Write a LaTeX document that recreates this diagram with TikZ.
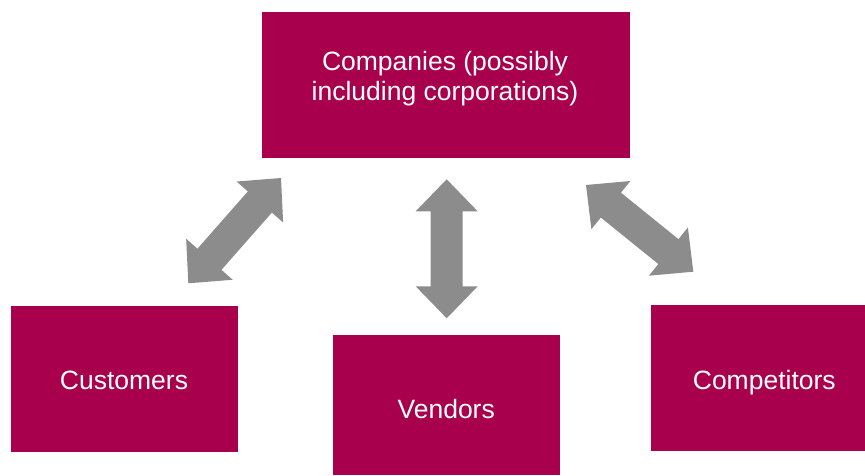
\documentclass[tikz,border=0pt]{standalone}
\usepackage{fontspec}
\setmainfont{Liberation Sans}
\usetikzlibrary{calc}
\definecolor{boxred}{RGB}{168,0,76}
\definecolor{arrowgray}{RGB}{140,140,140}
\tikzset{
  box/.style={fill=boxred, draw=none, inner sep=0pt, anchor=south west},
  lbl/.style={text=white, inner sep=0pt, anchor=base, font=\fontsize{26.5}{30}\selectfont},
}
\newcommand{\blockarrow}[2]{%
  \fill[arrowgray] (#1)
    -- ($(#1)!32pt!(#2)!31pt!90:(#2)$)
    -- ($(#1)!32pt!(#2)!16pt!90:(#2)$)
    -- ($(#2)!32pt!(#1)!16pt!-90:(#1)$)
    -- ($(#2)!32pt!(#1)!31pt!-90:(#1)$)
    -- (#2)
    -- ($(#2)!32pt!(#1)!31pt!90:(#1)$)
    -- ($(#2)!32pt!(#1)!16pt!90:(#1)$)
    -- ($(#1)!32pt!(#2)!16pt!-90:(#2)$)
    -- ($(#1)!32pt!(#2)!31pt!-90:(#2)$)
    -- cycle;}
\begin{document}
\begin{tikzpicture}[x=1pt,y=1pt]
\useasboundingbox (0,0) rectangle (865,475);
% boxes
\node[box, minimum width=368pt, minimum height=145.7pt] (companies) at (262,317.3) {};
\node[box, minimum width=226.7pt, minimum height=145.7pt] (customers) at (11,23.3) {};
\node[box, minimum width=227.3pt, minimum height=140pt] (vendors) at (332.7,0) {};
\node[box, minimum width=214pt, minimum height=145.7pt] (competitors) at (651,24.3) {};
% labels
\node[lbl] (companies-l1) at (445,404) {Companies (possibly};
\node[lbl] (companies-l2) at (445,374) {including corporations)};
\node[lbl] (customers-l) at (124,86) {Customers};
\node[lbl] (vendors-l) at (446.2,56.7) {Vendors};
\node[lbl] (competitors-l) at (764.3,86) {Competitors};
% arrow tips
\coordinate (la) at (188.3,191.7);
\coordinate (lb) at (281,297);
\coordinate (ma) at (446.7,156.7);
\coordinate (mb) at (446.7,295.7);
\coordinate (ra) at (586,290);
\coordinate (rb) at (693.3,203.3);
\blockarrow{la}{lb}
\blockarrow{ma}{mb}
\blockarrow{ra}{rb}
\end{tikzpicture}
\end{document}
